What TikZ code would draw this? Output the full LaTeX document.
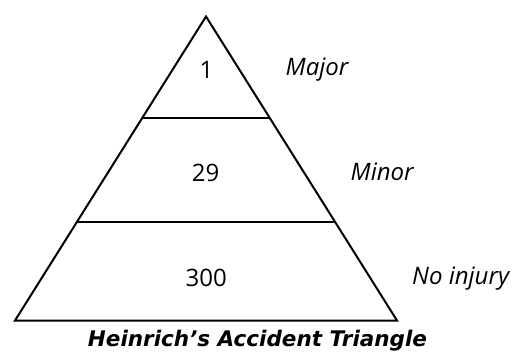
\documentclass[tikz,border=0pt]{standalone}
\usepackage{fontspec}
\newfontfamily\bodyfont{Open Sans}
\newfontfamily\titlefont{DejaVu Sans}
\usetikzlibrary{calc}
\begin{document}
\begin{tikzpicture}[x=1pt,y=-1pt,
  edge/.style={line width=2pt,line join=miter},
  num/.style={inner sep=0pt,anchor=base,font=\bodyfont\fontsize{24}{28}\selectfont},
  lab/.style={inner sep=0pt,anchor=base west,font=\bodyfont\fontsize{24}{28}\selectfont\itshape},
  ttl/.style={inner sep=0pt,anchor=base,font=\titlefont\fontsize{21.5}{25}\selectfont\bfseries\itshape}]
\useasboundingbox (0,0) rectangle (519,353);
\coordinate (A) at (206,16.5);
\coordinate (L) at (15,320.5);
\coordinate (R) at (397,320.5);
\coordinate (L1) at ($(A)!0.3329!(L)$);
\coordinate (R1) at ($(A)!0.3329!(R)$);
\coordinate (L2) at ($(A)!0.675!(L)$);
\coordinate (R2) at ($(A)!0.675!(R)$);
\draw[edge] (A) -- (L) -- (R) -- cycle;
\draw[edge] (L1) -- (R1);
\draw[edge] (L2) -- (R2);
\node[num] (n1) at (206.5,78.3) {1};
\node[num] (n2) at (205.7,181.7) {29};
\node[num] (n3) at (206.3,286) {300};
\node[lab] (l1) at (285.5,75) {Major};
\node[lab] (l2) at (350.5,180) {Minor};
\node[lab] (l3) at (412,284.3) {No injury};
\node[ttl] (t) at (257.5,346.7) {Heinrich’s Accident Triangle};
\end{tikzpicture}
\end{document}
